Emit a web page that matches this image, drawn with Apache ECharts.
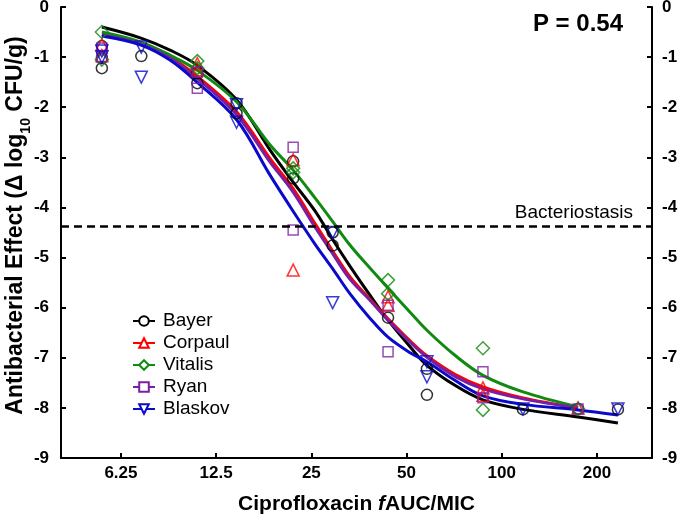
<!DOCTYPE html>
<html><head><meta charset="utf-8">
<script src="https://cdn.jsdelivr.net/npm/echarts@6/dist/echarts.min.js"></script>
<style>html,body{margin:0;padding:0;background:#fff}#c{width:680px;height:524px}</style>
</head><body><div id="c"></div>
<script>
// ---- data ----
const studies = ['Bayer','Corpaul','Vitalis','Ryan','Blaskov'];
const colors = ['#000000','#ff0000','#118a11','#7b1fa2','#0a0acc'];
const xTicks = [6.25, 12.5, 25, 50, 100, 200];
const xTickLabels = ['6.25','12.5','25','50','100','200'];
const bacteriostasis = -4.38;

const bayerX = [5.44,5.44,5.44,7.25,10.9,10.9,14.5,14.5,21.9,21.9,29.2,29.2,43.7,58,58,116.7,174.3,233];
const bayerY = [-0.78,-1.02,-1.22,-0.98,-1.32,-1.52,-1.92,-2.12,-3.08,-3.42,-4.5,-4.76,-6.2,-7.22,-7.74,-8.03,-8.02,-8.03];
const corpaulX = [5.44,5.44,10.9,10.9,21.9,21.9,43.7,43.7,87.2,87.2,174.3];
const corpaulY = [-0.75,-0.97,-1.13,-1.25,-3.05,-5.25,-5.78,-5.95,-7.6,-7.75,-8.0];
const vitalisX = [5.44,5.44,10.9,10.9,21.9,21.9,43.7,43.7,87.2,87.2,174.3];
const vitalisY = [-0.5,-1.05,-1.08,-1.22,-3.22,-3.3,-5.45,-5.72,-6.81,-8.04,-8.02];
const ryanX = [5.44,5.44,10.9,10.9,21.9,21.9,43.7,43.7,87.2,87.2,174.3];
const ryanY = [-0.82,-1.0,-1.3,-1.62,-2.8,-4.45,-5.95,-6.88,-7.28,-7.8,-8.02];
const blaskovX = [5.44,5.44,7.25,7.25,14.5,14.5,29.2,29.2,58,58,116.7,233];
const blaskovY = [-0.88,-1.0,-0.8,-1.4,-1.95,-2.3,-4.5,-5.9,-7.08,-7.38,-8.02,-8.02];

// fitted curves
const curveX = [5.44,7.23,8.93,10.87,14.55,18.49,21.87,25.67,29.26,33.1,38.3,43.7,51.3,58.0,71.1,87.2,116.7,174.3,233];
const bayerFit   = [-0.40,-0.62,-0.86,-1.16,-1.86,-2.85,-3.49,-4.07,-4.65,-5.17,-5.75,-6.25,-6.78,-7.15,-7.55,-7.84,-8.03,-8.18,-8.30];
const corpaulFit = [-0.55,-0.73,-1.00,-1.38,-2.10,-3.02,-3.62,-4.32,-4.88,-5.38,-5.83,-6.22,-6.66,-6.96,-7.33,-7.58,-7.80,-8.00];
const vitalisFit = [-0.50,-0.70,-0.96,-1.26,-1.90,-2.75,-3.25,-3.81,-4.29,-4.75,-5.21,-5.61,-6.09,-6.45,-6.95,-7.35,-7.68,-7.98];
const ryanFit    = [-0.56,-0.74,-1.02,-1.42,-2.16,-3.09,-3.69,-4.39,-4.93,-5.43,-5.85,-6.25,-6.69,-6.99,-7.37,-7.62,-7.82,-8.00];
const blaskovFit = [-0.58,-0.76,-1.06,-1.50,-2.26,-3.35,-4.07,-4.73,-5.23,-5.72,-6.21,-6.59,-6.90,-7.08,-7.45,-7.76,-7.93,-8.04,-8.14];

// ---- build ----
const L2 = v => Math.log2(v);
const pts = (xs, ys) => xs.map((x, i) => [L2(x), ys[i]]);
const scatterSets = [[bayerX,bayerY],[corpaulX,corpaulY],[vitalisX,vitalisY],[ryanX,ryanY],[blaskovX,blaskovY]];
const fits = [bayerFit, corpaulFit, vitalisFit, ryanFit, blaskovFit];
const symbolsEmpty = ['emptyCircle','emptyTriangle','emptyDiamond','emptyRect','emptyTriangle'];
const symbolsPlain = ['circle','triangle','diamond','rect','triangle'];
const symbolRot = [0,0,0,0,180];
const symbolSz = [11,12,13,10,12];
const FONT = "'Liberation Sans', Arial, sans-serif";

const series = [];
studies.forEach((name, k) => {
  series.push({
    name, type: 'line', smooth: 0.35,
    data: fits[k].map((y, i) => [L2(curveX[i]), y]),
    showSymbol: false, symbol: symbolsEmpty[k], symbolRotate: symbolRot[k], symbolSize: 10,
    lineStyle: { color: colors[k], width: 3 },
    itemStyle: { color: colors[k] },
    z: 2, silent: true
  });
});
studies.forEach((name, k) => {
  series.push({
    name, type: 'scatter',
    data: pts(scatterSets[k][0], scatterSets[k][1]),
    symbol: symbolsPlain[k], symbolRotate: symbolRot[k], symbolSize: symbolSz[k],
    itemStyle: { color: 'rgba(0,0,0,0)', borderColor: colors[k], borderWidth: 1.5 },
    z: 3
  });
});
series.push({
  type: 'line', data: [], silent: true,
  markLine: {
    silent: true, symbol: 'none',
    lineStyle: { color: '#000', width: 2.5, type: [8, 5] },
    label: { show: true, position: 'insideEndTop', formatter: 'Bacteriostasis', color: '#000', fontSize: 19, fontFamily: FONT, distance: [19, 4] },
    data: [{ yAxis: bacteriostasis }]
  }
});

const xmin = L2(4.04), xmax = L2(298.6);
const tickVals = xTicks.map(L2);
const yAxisCommon = {
  type: 'value', min: -9, max: 0, interval: 1,
  axisLine: { show: true, lineStyle: { color: '#000', width: 2 } },
  axisTick: { show: true, inside: true, length: 5, lineStyle: { color: '#000', width: 2 } },
  splitLine: { show: false },
};

const option = {
  animation: false,
  backgroundColor: '#fff',
  textStyle: { fontFamily: FONT },
  title: { text: 'P = 0.54', right: 52, top: 7, textStyle: { fontSize: 24, fontWeight: 'bold', color: '#000', fontFamily: FONT } },
  grid: { left: 61, right: 28, top: 7, bottom: 66, containLabel: false, outerBoundsMode: 'none' },
  legend: {
    data: studies, orient: 'vertical', left: 132, top: 311, padding: 0,
    itemWidth: 22, itemHeight: 12, itemGap: 2,
    textStyle: { fontSize: 19, color: '#000', fontFamily: FONT, lineHeight: 20, padding: [0,0,0,3] },
    selectedMode: false
  },
  xAxis: {
    type: 'value', min: xmin, max: xmax,
    axisLine: { onZero: false, lineStyle: { color: '#000', width: 2 } },
    axisTick: { inside: true, length: 5, customValues: tickVals, lineStyle: { color: '#000', width: 2 } },
    axisLabel: {
      customValues: tickVals, margin: 7, fontSize: 17, fontWeight: 'bold', color: '#000', fontFamily: FONT,
      formatter: v => { let b = 0; tickVals.forEach((t, i) => { if (Math.abs(t - v) < Math.abs(tickVals[b] - v)) b = i; }); return xTickLabels[b]; }
    },
    splitLine: { show: false },
    name: '{b|Ciprofloxacin }{i|f}{b|AUC/MIC}', nameLocation: 'middle', nameGap: 36,
    nameTextStyle: { rich: {
      b: { fontSize: 21, fontWeight: 'bold', color: '#000', fontFamily: FONT },
      i: { fontSize: 21, fontWeight: 'bold', fontStyle: 'italic', color: '#000', fontFamily: FONT }
    } }
  },
  yAxis: [
    Object.assign({}, yAxisCommon, {
      position: 'left',
      axisLabel: { margin: 12, fontSize: 17, fontWeight: 'bold', color: '#000', fontFamily: FONT },
      name: '{b|Antibacterial Effect (Δ log}{s|10}{b| CFU/g)}', nameLocation: 'middle', nameRotate: 90,
      nameGap: 34, nameMoveOverlap: false,
      nameTextStyle: { padding: [0, 0, 0, 14], rich: {
        b: { fontSize: 23, fontWeight: 'bold', color: '#000', fontFamily: FONT, lineHeight: 26, verticalAlign: 'bottom' },
        s: { fontSize: 14, fontWeight: 'bold', color: '#000', fontFamily: FONT, lineHeight: 26, verticalAlign: 'bottom', padding: [0,0,-6,0] }
      } }
    }),
    Object.assign({}, yAxisCommon, {
      position: 'right',
      axisLabel: { margin: 10, fontSize: 17, fontWeight: 'bold', color: '#000', fontFamily: FONT }
    })
  ],
  series
};
const chart = echarts.init(document.getElementById('c'), null, { renderer: 'canvas' });
chart.setOption(option);
</script></body></html>
